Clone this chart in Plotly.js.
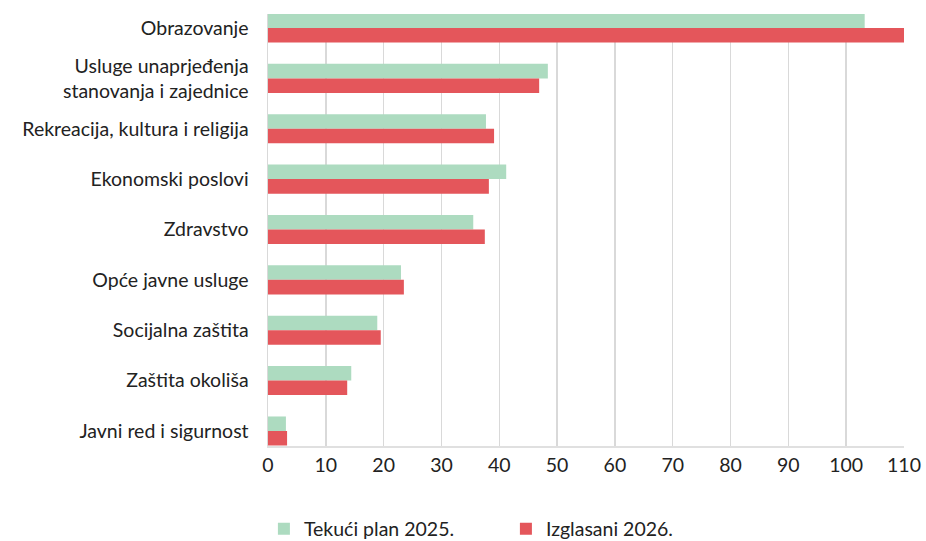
<!DOCTYPE html>
<html>
<head>
<meta charset="utf-8">
<script src="https://cdn.plot.ly/plotly-3.0.1.min.js"></script>
<style>html,body{margin:0;padding:0;background:#fff;}#chart{width:926px;height:541px;}</style>
</head>
<body>
<div id="chart"></div>
<script>
const categories = [
  "Obrazovanje",
  "Usluge unaprjeđenja<br>stanovanja i zajednice",
  "Rekreacija, kultura i religija",
  "Ekonomski poslovi",
  "Zdravstvo",
  "Opće javne usluge",
  "Socijalna zaštita",
  "Zaštita okoliša",
  "Javni red i sigurnost"
];
const plan2025 = [103.2, 48.4, 37.7, 41.2, 35.5, 23.0, 18.9, 14.4, 3.1];
const izglasani2026 = [110.0, 46.9, 39.1, 38.2, 37.5, 23.5, 19.5, 13.7, 3.3];
const seriesNames = ["Tekući plan 2025.", "Izglasani 2026."];
const xTicks = [0, 10, 20, 30, 40, 50, 60, 70, 80, 90, 100, 110];

const fontFam = "Lato, 'Open Sans', sans-serif";
const traces = [
  {type: "bar", orientation: "h", name: seriesNames[0], y: categories, x: plan2025,
   marker: {color: "#addbc0"}, hoverinfo: "x"},
  {type: "bar", orientation: "h", name: seriesNames[1], y: categories, x: izglasani2026,
   marker: {color: "#e4565b"}, hoverinfo: "x"}
];
const layout = {
  width: 926, height: 541,
  margin: {l: 268, r: 22, t: 14, b: 95, autoexpand: false},
  paper_bgcolor: "#fff", plot_bgcolor: "#fff",
  font: {family: fontFam, size: 19.5, color: "#222"},
  barmode: "group", bargap: 0.424, bargroupgap: 0,
  xaxis: {
    range: [0, 110], tickvals: xTicks, ticktext: xTicks.map(String),
    showgrid: true, gridcolor: "#d9d9d9", gridwidth: 1.5,
    zeroline: false, showline: true, linecolor: "#e0e0e0", linewidth: 2,
    mirror: false, ticks: "outside", ticklen: 1, tickcolor: "rgba(0,0,0,0)",
    tickfont: {family: fontFam, size: 19.5, color: "#222"}, fixedrange: true, automargin: false
  },
  yaxis: {
    type: "category", range: [8.298, -0.278],
    showgrid: false, zeroline: false, showline: true, linecolor: "#d9d9d9", linewidth: 1.5,
    ticks: "outside", ticklen: 14, tickcolor: "rgba(0,0,0,0)",
    tickfont: {family: fontFam, size: 19.5, color: "#222"}, fixedrange: true, automargin: false
  },
  showlegend: true,
  legend: {
    orientation: "h", xref: "container", x: 0.285, xanchor: "left", yref: "container", y: 0.022, yanchor: "middle",
    font: {family: fontFam, size: 19.5, color: "#222"}, entrywidth: 197, entrywidthmode: "pixels",
    traceorder: "normal"
  }
};
Plotly.newPlot("chart", traces, layout, {displayModeBar: false, staticPlot: true});
</script>
</body>
</html>
